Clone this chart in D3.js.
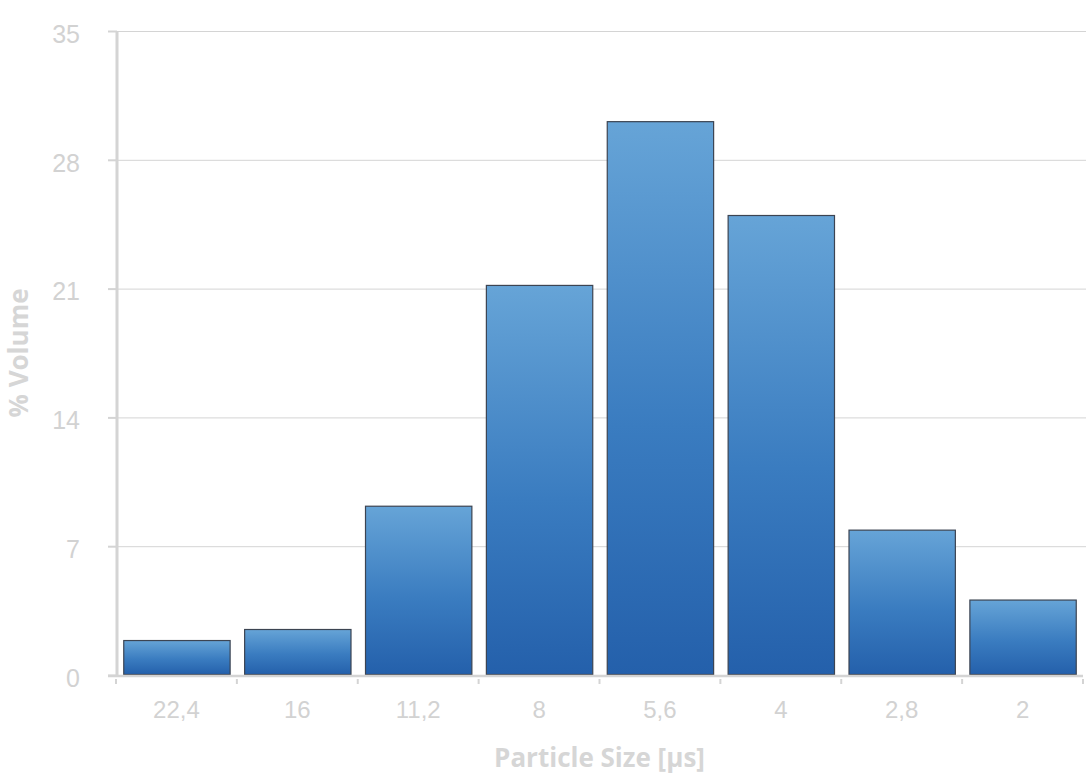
<!DOCTYPE html>
<html>
<head>
<meta charset="utf-8">
<script src="https://cdn.jsdelivr.net/npm/d3@7"></script>
<style>
  html, body { margin: 0; padding: 0; background: #fff; }
  svg { display: block; }
  .tick text { font-family: "Liberation Sans", Arial, sans-serif; fill: #d2d2d2; }
  .title { font-family: "Open Sans", "DejaVu Sans", sans-serif; font-weight: 700; fill: #d6d6d6; }
</style>
</head>
<body>
<svg id="chart" width="1092" height="777"></svg>
<script>
// particle size classes (µs) and their % volume
const sizes = ['22,4', '16', '11,2', '8', '5,6', '4', '2,8', '2']
const volume = [1.9, 2.5, 9.2, 21.2, 30.1, 25.0, 7.9, 4.1]
const yTicks = [0, 7, 14, 21, 28, 35]

const plotLeft = 116
const plotRight = 1083
const plotBottom = 675
const plotTop = 31

const svg = d3.select('#chart')

const grad = svg.append('defs')
  .append('linearGradient')
  .attr('id', 'barGrad')
  .attr('x1', 0).attr('y1', 0)
  .attr('x2', 0).attr('y2', 1)
grad.append('stop').attr('offset', '0%').attr('stop-color', '#66a4d7')
grad.append('stop').attr('offset', '55%').attr('stop-color', '#3a7cc0')
grad.append('stop').attr('offset', '100%').attr('stop-color', '#2460ab')

const xScale = d3.scaleBand()
  .domain(sizes)
  .range([plotLeft, plotRight])
  .paddingInner(0.12)
  .paddingOuter(0.06)

const yScale = d3.scaleLinear()
  .domain([0, 35])
  .range([plotBottom, plotTop])

// horizontal grid
svg.append('g')
  .selectAll('line')
  .data(yTicks.filter(d => d > 0))
  .join('line')
  .attr('x1', plotLeft)
  .attr('x2', plotRight + 3)
  .attr('y1', d => yScale(d) + 0.5)
  .attr('y2', d => yScale(d) + 0.5)
  .attr('stroke', '#d4d4d4')
  .attr('stroke-width', 1)

// bars
svg.append('g')
  .selectAll('rect')
  .data(volume)
  .join('rect')
  .attr('x', (d, i) => xScale(sizes[i]) + 0.5)
  .attr('y', d => yScale(d) + 0.5)
  .attr('width', xScale.bandwidth())
  .attr('height', d => yScale(0) - yScale(d) - 1)
  .attr('fill', 'url(#barGrad)')
  .attr('stroke', '#3c4452')
  .attr('stroke-width', 1.2)

// y axis
const yAxis = svg.append('g')
  .attr('transform', `translate(${plotLeft + 1},0)`)
  .call(d3.axisLeft(yScale).tickValues(yTicks).tickSize(9).tickPadding(28))
yAxis.select('.domain')
  .attr('stroke', '#d4d4d4')
  .attr('stroke-width', 3)
  .attr('d', `M0,${plotTop}V${plotBottom}`)
yAxis.selectAll('.tick line').attr('stroke', '#d4d4d4').attr('stroke-width', 2)
yAxis.selectAll('.tick text')
  .style('font-size', '25px')
  .attr('dy', '0.45em')

// x axis
const xEdges = sizes.map(s => xScale(s) - xScale.step() * xScale.paddingInner() / 2)
xEdges.push(plotRight)
const xAxis = svg.append('g')
  .attr('transform', `translate(0,${plotBottom + 1})`)
  .call(d3.axisBottom(xScale).tickSize(0).tickPadding(25))
xAxis.select('.domain')
  .attr('stroke', '#d4d4d4')
  .attr('stroke-width', 2.5)
  .attr('d', `M${plotLeft - 8},0H${plotRight}`)
xAxis.selectAll('.tick text')
  .style('font-size', '24px')
xAxis.selectAll('.edge')
  .data(xEdges)
  .join('line')
  .attr('class', 'edge')
  .attr('x1', d => d).attr('x2', d => d)
  .attr('y1', 3).attr('y2', 8)
  .attr('stroke', '#d4d4d4')
  .attr('stroke-width', 2)

// axis titles
svg.append('text')
  .attr('class', 'title')
  .attr('x', (plotLeft + plotRight) / 2)
  .attr('y', 767)
  .attr('text-anchor', 'middle')
  .style('font-size', '26px')
  .text('Particle Size [µs]')

svg.append('text')
  .attr('class', 'title')
  .attr('transform', `translate(28,353) rotate(-90)`)
  .attr('text-anchor', 'middle')
  .style('font-size', '26px')
  .text('% Volume')
</script>
</body>
</html>
